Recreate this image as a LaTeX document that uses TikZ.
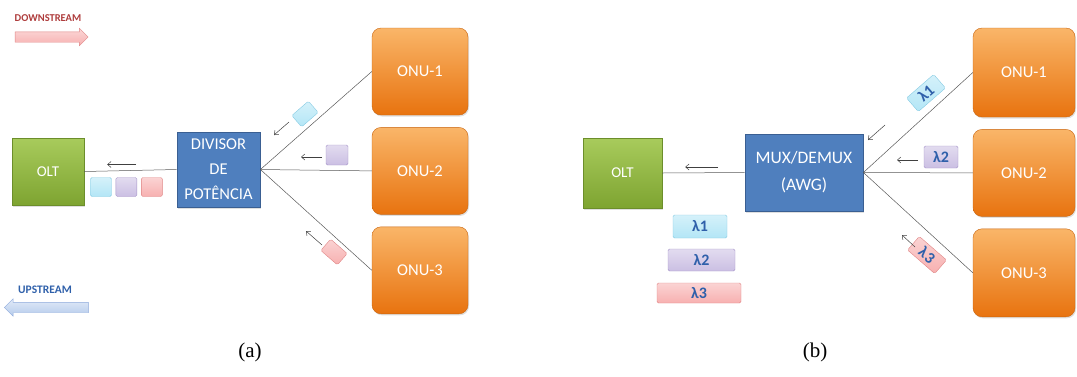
\documentclass[tikz,border=0pt]{standalone}
\usepackage{fontspec}
\setmainfont{Carlito}
\newfontfamily\capfont{Liberation Serif}
\usetikzlibrary{shapes.arrows,arrows.meta,positioning,shadows}

\definecolor{onutop}{HTML}{F8A343}
\definecolor{onubot}{HTML}{E8730F}
\definecolor{onuline}{HTML}{C9650F}
\definecolor{olttop}{HTML}{A8CB5C}
\definecolor{oltbot}{HTML}{7EA431}
\definecolor{oltline}{HTML}{6C8E2B}
\definecolor{splfill}{HTML}{4F7FBE}
\definecolor{splline}{HTML}{3A5F92}
\definecolor{cyanpk}{HTML}{B3E6F6}
\definecolor{cyanln}{HTML}{86CBE3}
\definecolor{purppk}{HTML}{CBBFE3}
\definecolor{purpln}{HTML}{A594C8}
\definecolor{redpk}{HTML}{F7B0B0}
\definecolor{redln}{HTML}{E08686}
\definecolor{uppk}{HTML}{B5CBEC}
\definecolor{upln}{HTML}{8DA9DB}
\definecolor{lambdatxt}{HTML}{2F60AA}
\definecolor{downtxt}{HTML}{AE3C3C}

\begin{document}
\begin{tikzpicture}[x=1pt, y=-1pt,
    every node/.style={font=\fontsize{16.5}{18}\selectfont},
    onu/.style={draw=onuline, rounded corners=9pt, top color=onutop!80!white, bottom color=onubot,
        text=white, minimum width=96pt, minimum height=87pt,
        drop shadow={opacity=0.25, shadow xshift=1pt, shadow yshift=-1.5pt}},
    olt/.style={draw=oltline, top color=olttop, bottom color=oltbot, text=white,
        font=\fontsize{15}{17}\selectfont,
        drop shadow={opacity=0.25, shadow xshift=1pt, shadow yshift=-1.5pt}},
    splitter/.style={draw=splline, thick, fill=splfill, text=white, align=center,
        drop shadow={opacity=0.25, shadow xshift=1pt, shadow yshift=-1.5pt}},
    packet/.style={draw=#1ln, rounded corners=1.5pt, top color=#1pk!55!white, bottom color=#1pk,
        inner sep=0pt},
    tag/.style={packet=#1, text=lambdatxt, font=\bfseries\fontsize{16}{17}\selectfont},
    fiber/.style={draw=gray!70!black, line width=0.5pt},
    flow/.style={draw=gray!50!black, line width=0.5pt, -{Straight Barb[length=3.5pt,width=6pt]}},
    bigarrow/.style={single arrow, inner xsep=0pt, inner ysep=5pt, single arrow head extend=3.5pt},
    caption/.style={font=\capfont\fontsize{21}{24}\selectfont}
  ]
  \useasboundingbox (0,0) rectangle (1077,376);

  % legend arrows
  \node[font=\bfseries\fontsize{10.5}{12}\selectfont, text=downtxt] (downtxt) at (48,18) {DOWNSTREAM};
  \node[bigarrow, draw=redln, top color=redpk!50!white, bottom color=redpk, minimum height=73pt] (downarr) at (49,37) {};
  \node[font=\bfseries\fontsize{11.5}{13}\selectfont, text=lambdatxt] (uptxt) at (45,290) {UPSTREAM};
  \node[bigarrow, draw=upln, top color=uppk!40!white, bottom color=uppk, shape border rotate=180, minimum height=84pt] (uparr) at (49,307.5) {};

  % (a) power splitter
  \node[olt, minimum width=72pt, minimum height=67pt] (olta) at (48,171.5) {OLT};
  \node[splitter, minimum width=83pt, minimum height=75pt, font=\fontsize{16.5}{25}\selectfont] (diva) at (218.5,169.5) {DIVISOR\\DE\\POTÊNCIA};
  \node[onu] (onu1a) at (420,71.5) {ONU-1};
  \node[onu, below=12pt of onu1a] (onu2a) {ONU-2};
  \node[onu, below=12pt of onu2a] (onu3a) {ONU-3};

  \draw[fiber] (olta.east) -- (diva.west);
  \draw[fiber] (diva.east) -- (onu1a.west);
  \draw[fiber] (diva.east) -- (onu2a.west);
  \draw[fiber] (diva.east) -- (onu3a.west);

  \node[packet=cyan, minimum width=21pt, minimum height=19pt] (sq1a) at (101,187) {};
  \node[packet=purp, minimum width=21pt, minimum height=19pt, right=4pt of sq1a] (sq2a) {};
  \node[packet=red, minimum width=21pt, minimum height=19pt, right=4pt of sq2a] (sq3a) {};
  \draw[flow] ([shift={(52,-7)}]olta.east) -- ++(-29,0);

  \node[packet=cyan, minimum width=22pt, minimum height=15pt, rotate=41] (pk1a) at (305,114) {};
  \node[packet=purp, minimum width=22pt, minimum height=20pt] (pk2a) at (337,155) {};
  \node[packet=red, minimum width=22pt, minimum height=15pt, rotate=-41] (pk3a) at (334,252) {};
  \draw[flow] ([shift={(-16,8)}]pk1a.center) -- ++(-15,13);
  \draw[flow] ([shift={(-15,2)}]pk2a.center) -- ++(-21,0);
  \draw[flow] ([shift={(-12,-7)}]pk3a.center) -- ++(-16,-14);

  % (b) AWG
  \node[olt, minimum width=79pt, minimum height=70pt] (oltb) at (622.5,173) {OLT};
  \node[splitter, minimum width=118pt, minimum height=77pt, font=\fontsize{17.5}{27}\selectfont] (muxb) at (804,172.5) {MUX/DEMUX\\(AWG)};
  \node[onu, minimum width=102pt, minimum height=89pt] (onu1b) at (1024,72.5) {ONU-1};
  \node[onu, minimum width=102pt, minimum height=87pt, below=12pt of onu1b] (onu2b) {ONU-2};
  \node[onu, minimum width=102pt, minimum height=88pt, below=12pt of onu2b] (onu3b) {ONU-3};

  \draw[fiber] (oltb.east) -- (muxb.west);
  \draw[fiber] (muxb.east) -- (onu1b.west);
  \draw[fiber] (muxb.east) -- (onu2b.west);
  \draw[fiber] (muxb.east) -- (onu3b.west);
  \draw[flow] ([shift={(56,-6)}]oltb.east) -- ++(-33,0);

  \node[tag=cyan, minimum width=54pt, minimum height=23pt] (w1b) at (700,226.5) {λ1};
  \node[tag=purp, minimum width=67pt, minimum height=22pt] (w2b) at (701.5,260) {λ2};
  \node[tag=red, minimum width=84pt, minimum height=20pt] (w3b) at (699,293) {λ3};

  \node[tag=cyan, minimum width=36pt, minimum height=18pt, rotate=41] (l1b) at (926,93) {λ1};
  \node[tag=purp, minimum width=34pt, minimum height=22pt] (l2b) at (941,157) {λ2};
  \node[tag=red, minimum width=36pt, minimum height=18pt, rotate=-41] (l3b) at (927,255) {λ3};
  \draw[flow] ([shift={(-41,32)}]l1b.center) -- ++(-17,15);
  \draw[flow] ([shift={(-23,3)}]l2b.center) -- ++(-21,0);
  \draw[flow] ([shift={(-12,-8)}]l3b.center) -- ++(-13,-12);

  % captions
  \node[caption] (capa) at (250,352) {(a)};
  \node[caption] (capb) at (815,352) {(b)};
\end{tikzpicture}
\end{document}
